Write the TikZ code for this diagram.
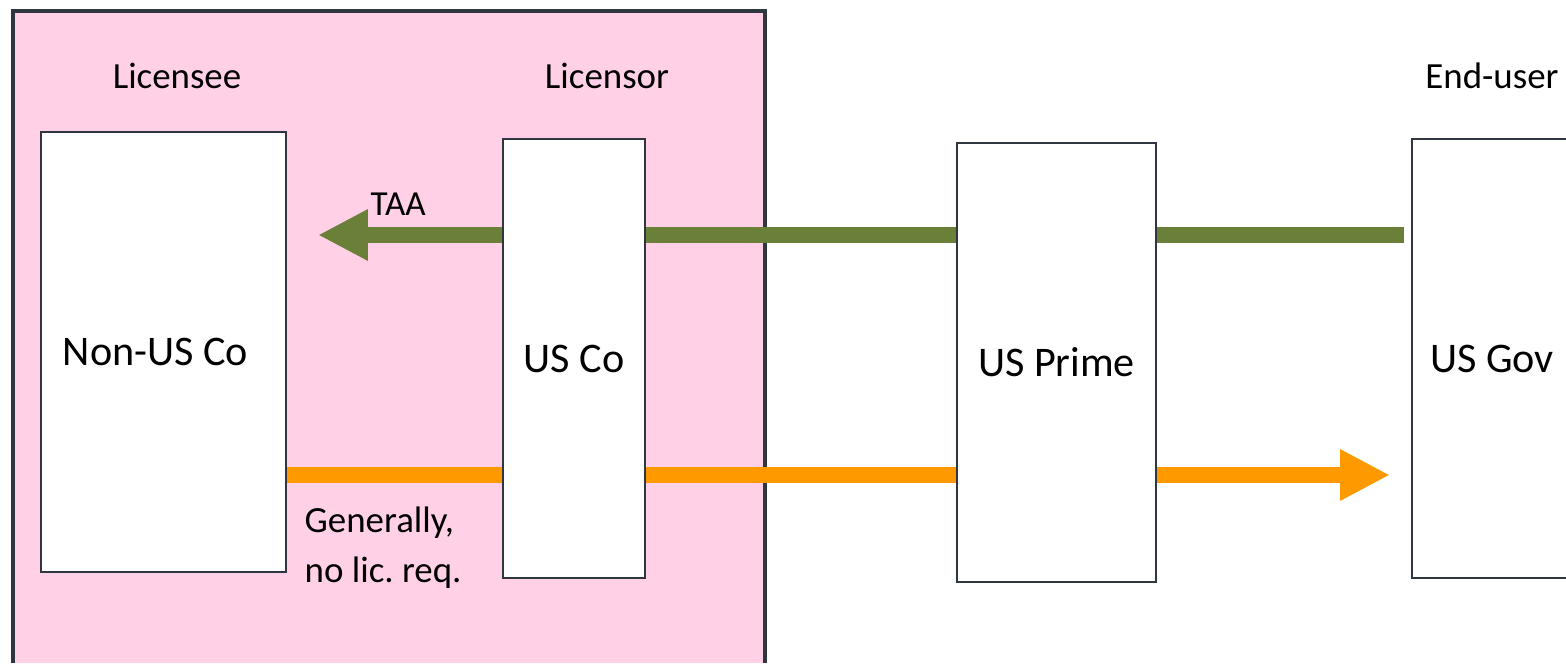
\documentclass[tikz,border=0pt]{standalone}
\usepackage{fontspec}
\setmainfont{Carlito}
\usepackage{tikz}
\usetikzlibrary{arrows.meta, positioning}
\pgfdeclarelayer{background}
\pgfsetlayers{background,main}
\definecolor{edge}{RGB}{47,54,64}
\definecolor{zone}{RGB}{255,208,230}
\definecolor{taagreen}{RGB}{106,128,56}
\definecolor{shiporange}{RGB}{255,153,0}
\tikzstyle{party} = [rectangle, draw=edge, line width=0.7pt, fill=white,
  inner sep=0pt, font=\fontsize{12}{14}\selectfont]
\tikzstyle{role} = [font=\fontsize{10.5}{13}\selectfont]
\tikzstyle{flow} = [line width=0.16cm, -{Triangle[length=0.5cm, width=0.48cm]}]

\begin{document}
\begin{tikzpicture}
    \useasboundingbox (0,0) rectangle (15.66,6.63);
    % licensing zone
    \begin{pgfonlayer}{background}
      \fill[zone] (0.13,0) rectangle (7.65,6.52);
      \draw[edge, line width=0.9pt] (0.13,0) |- (7.65,6.52) -- (7.65,0);
    \end{pgfonlayer}
    \node[role] (lee) at (1.77,5.87) {Licensee};
    \node[role] (lor) at (6.07,5.87) {Licensor};
    \node[role] (eu) at (14.92,5.87) {End-user};
    % parties
    \node[party, minimum width=2.45cm, minimum height=4.40cm] (nonus) at (1.635,3.11) {\hspace*{-0.16cm}Non-US Co};
    \node[party, minimum width=1.42cm, minimum height=4.39cm] (usco) at (5.74,3.045) {US Co};
    \node[party, minimum width=1.99cm, minimum height=4.39cm] (prime) at (10.565,3.005) {US Prime};
    \node[party, minimum width=1.60cm, minimum height=4.39cm] (gov) at (14.92,3.045) {US Gov};
    % flows, behind the parties
    \coordinate (taaend) at (3.18,4.28);
    \coordinate (shipend) at (13.90,1.88);
    \begin{pgfonlayer}{background}
      \draw[flow, taagreen] ([xshift=-0.07cm]gov.west |- taaend) -- (taaend);
      \draw[flow, shiporange] (nonus.east |- shipend) -- (shipend);
    \end{pgfonlayer}
    \node[font=\fontsize{10}{12}\selectfont, anchor=west, inner sep=0pt] (taa) at (3.70,4.59) {TAA};
    \node[role, anchor=west, align=left, inner sep=0pt,
      font=\fontsize{10.5}{14.2}\selectfont] (nolic) at (3.04,1.15) {Generally,\\no lic.\ req.};
  \end{tikzpicture}
\end{document}
